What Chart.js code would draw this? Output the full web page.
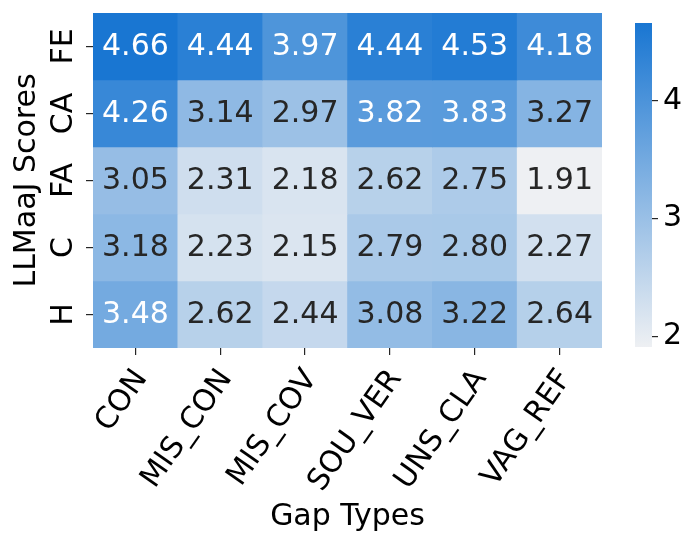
<!DOCTYPE html>
<html>
<head>
<meta charset="utf-8">
<script src="https://cdn.jsdelivr.net/npm/chart.js@4/dist/chart.umd.min.js"></script>
<style>
  html, body { margin: 0; padding: 0; background: #fff; }
  #wrap { position: relative; width: 697px; height: 547px; }
  #heat { position: absolute; left: 0; top: 0; }
  #cbar { position: absolute; left: 600px; top: 0; }
</style>
</head>
<body>
<div id="wrap">
  <canvas id="heat" width="697" height="547"></canvas>
  <canvas id="cbar" width="97" height="547"></canvas>
</div>
<script>
'use strict';

const gapTypes = ['CON', 'MIS_CON', 'MIS_COV', 'SOU_VER', 'UNS_CLA', 'VAG_REF'];
const scoreTypes = ['FE', 'CA', 'FA', 'C', 'H'];

const feScores = [4.66, 4.44, 3.97, 4.44, 4.53, 4.18];
const caScores = [4.26, 3.14, 2.97, 3.82, 3.83, 3.27];
const faScores = [3.05, 2.31, 2.18, 2.62, 2.75, 1.91];
const cScores  = [3.18, 2.23, 2.15, 2.79, 2.80, 2.27];
const hScores  = [3.48, 2.62, 2.44, 3.08, 3.22, 2.64];

const colorbarTicks = [2, 3, 4];

const rows = [feScores, caScores, faScores, cScores, hScores];

const FONT = 'DejaVu Sans';
const FSIZE = 30;
const LIGHT = [238, 240, 243];
const DARK = [25, 118, 210];

const allValues = rows.flat();
const vmin = Math.min(...allValues);
const vmax = Math.max(...allValues);

function mixColor(v) {
  const t = Math.max(0, Math.min(1, (v - vmin) / (vmax - vmin)));
  return LIGHT.map((c, i) => c + (DARK[i] - c) * t);
}

function toCss(rgb) {
  return `rgb(${rgb.map(Math.round).join(',')})`;
}

// same rule seaborn uses to pick the annotation colour
function luminance(rgb) {
  const lin = rgb.map(c => {
    c = c / 255;
    return c <= 0.03928 ? c / 12.92 : Math.pow((c + 0.055) / 1.055, 2.4);
  });
  return 0.2126 * lin[0] + 0.7152 * lin[1] + 0.0722 * lin[2];
}

const datasets = rows.map((vals, r) => ({
  label: scoreTypes[r],
  data: vals.map(() => [r, r + 1]),
  scores: vals,
  backgroundColor: vals.map(v => toCss(mixColor(v))),
  borderWidth: 0,
  borderSkipped: false,
  barPercentage: 1,
  categoryPercentage: 1,
  grouped: false
}));

const cellText = {
  id: 'cellText',
  afterDatasetsDraw(chart) {
    const ctx = chart.ctx;
    ctx.save();
    ctx.font = `${FSIZE}px "${FONT}"`;
    ctx.textAlign = 'center';
    ctx.textBaseline = 'middle';
    chart.data.datasets.forEach((ds, i) => {
      chart.getDatasetMeta(i).data.forEach((el, j) => {
        const p = el.getProps(['x', 'y', 'base'], true);
        const v = ds.scores[j];
        ctx.fillStyle = luminance(mixColor(v)) > 0.408 ? '#262626' : '#ffffff';
        ctx.fillText(v.toFixed(2), p.x, (p.y + p.base) / 2 + 1);
      });
    });
    ctx.restore();
  }
};

const rowLabels = {
  id: 'rowLabels',
  afterDraw(chart) {
    const ctx = chart.ctx;
    const y = chart.scales.y;
    ctx.save();
    ctx.font = `${FSIZE}px "${FONT}"`;
    ctx.fillStyle = '#000';
    ctx.textAlign = 'center';
    ctx.textBaseline = 'alphabetic';
    scoreTypes.forEach((lab, i) => {
      ctx.save();
      ctx.translate(y.right - 21, y.getPixelForValue(i + 0.5));
      ctx.rotate(-Math.PI / 2);
      ctx.fillText(lab, 0, 0);
      ctx.restore();
    });
    ctx.restore();
  }
};

new Chart(document.getElementById('heat'), {
  type: 'bar',
  data: { labels: gapTypes, datasets },
  options: {
    responsive: false,
    animation: false,
    layout: { padding: { top: 13, right: 95, left: 0, bottom: 0 } },
    plugins: { legend: { display: false }, tooltip: { enabled: false } },
    scales: {
      x: {
        offset: true,
        afterFit: (s) => { s.height = 199; },
        grid: { offset: false, drawOnChartArea: false, drawTicks: true, tickLength: 7, color: '#262626', lineWidth: 1.2 },
        border: { display: false },
        ticks: { color: '#000', font: { family: FONT, size: FSIZE, lineHeight: 1.45 }, minRotation: 55, maxRotation: 55, padding: 6, labelOffset: 6 },
        title: { display: true, text: 'Gap Types', color: '#000', font: { family: FONT, size: FSIZE }, padding: { top: 0, bottom: 12 } }
      },
      y: {
        min: 0,
        max: 5,
        reverse: true,
        afterFit: (s) => { s.width = 93; },
        afterBuildTicks: (s) => { s.ticks = scoreTypes.map((_, i) => ({ value: i + 0.5 })); },
        grid: { drawOnChartArea: false, drawTicks: true, tickLength: 7, color: '#262626', lineWidth: 1.2 },
        border: { display: false },
        ticks: { display: false },
        title: { display: true, text: 'LLMaaJ Scores', color: '#000', font: { family: FONT, size: FSIZE }, padding: { top: 9, bottom: 0 } }
      }
    }
  },
  plugins: [cellText, rowLabels]
});

new Chart(document.getElementById('cbar'), {
  type: 'bar',
  data: {
    labels: ['scale'],
    datasets: [{
      data: [[vmin, vmax]],
      borderWidth: 0,
      borderSkipped: false,
      barPercentage: 1,
      categoryPercentage: 1,
      backgroundColor: (c) => {
        const ch = c.chart;
        if (!ch.chartArea) return toCss(DARK);
        const ys = ch.scales.y;
        const g = ch.ctx.createLinearGradient(0, ys.getPixelForValue(vmin), 0, ys.getPixelForValue(vmax));
        g.addColorStop(0, toCss(LIGHT));
        g.addColorStop(1, toCss(DARK));
        return g;
      }
    }]
  },
  options: {
    responsive: false,
    animation: false,
    layout: { padding: { top: 13, left: 35, right: 0, bottom: 200 } },
    plugins: { legend: { display: false }, tooltip: { enabled: false } },
    scales: {
      x: { display: false },
      y: {
        position: 'right',
        min: vmin,
        max: vmax,
        afterFit: (s) => { s.width = 45; },
        afterBuildTicks: (s) => { s.ticks = colorbarTicks.map(v => ({ value: v })); },
        grid: { drawOnChartArea: false, drawTicks: true, tickLength: 6, color: '#262626', lineWidth: 1.2 },
        border: { display: false },
        ticks: { color: '#000', font: { family: FONT, size: FSIZE }, padding: 5 }
      }
    }
  }
});
</script>
</body>
</html>
